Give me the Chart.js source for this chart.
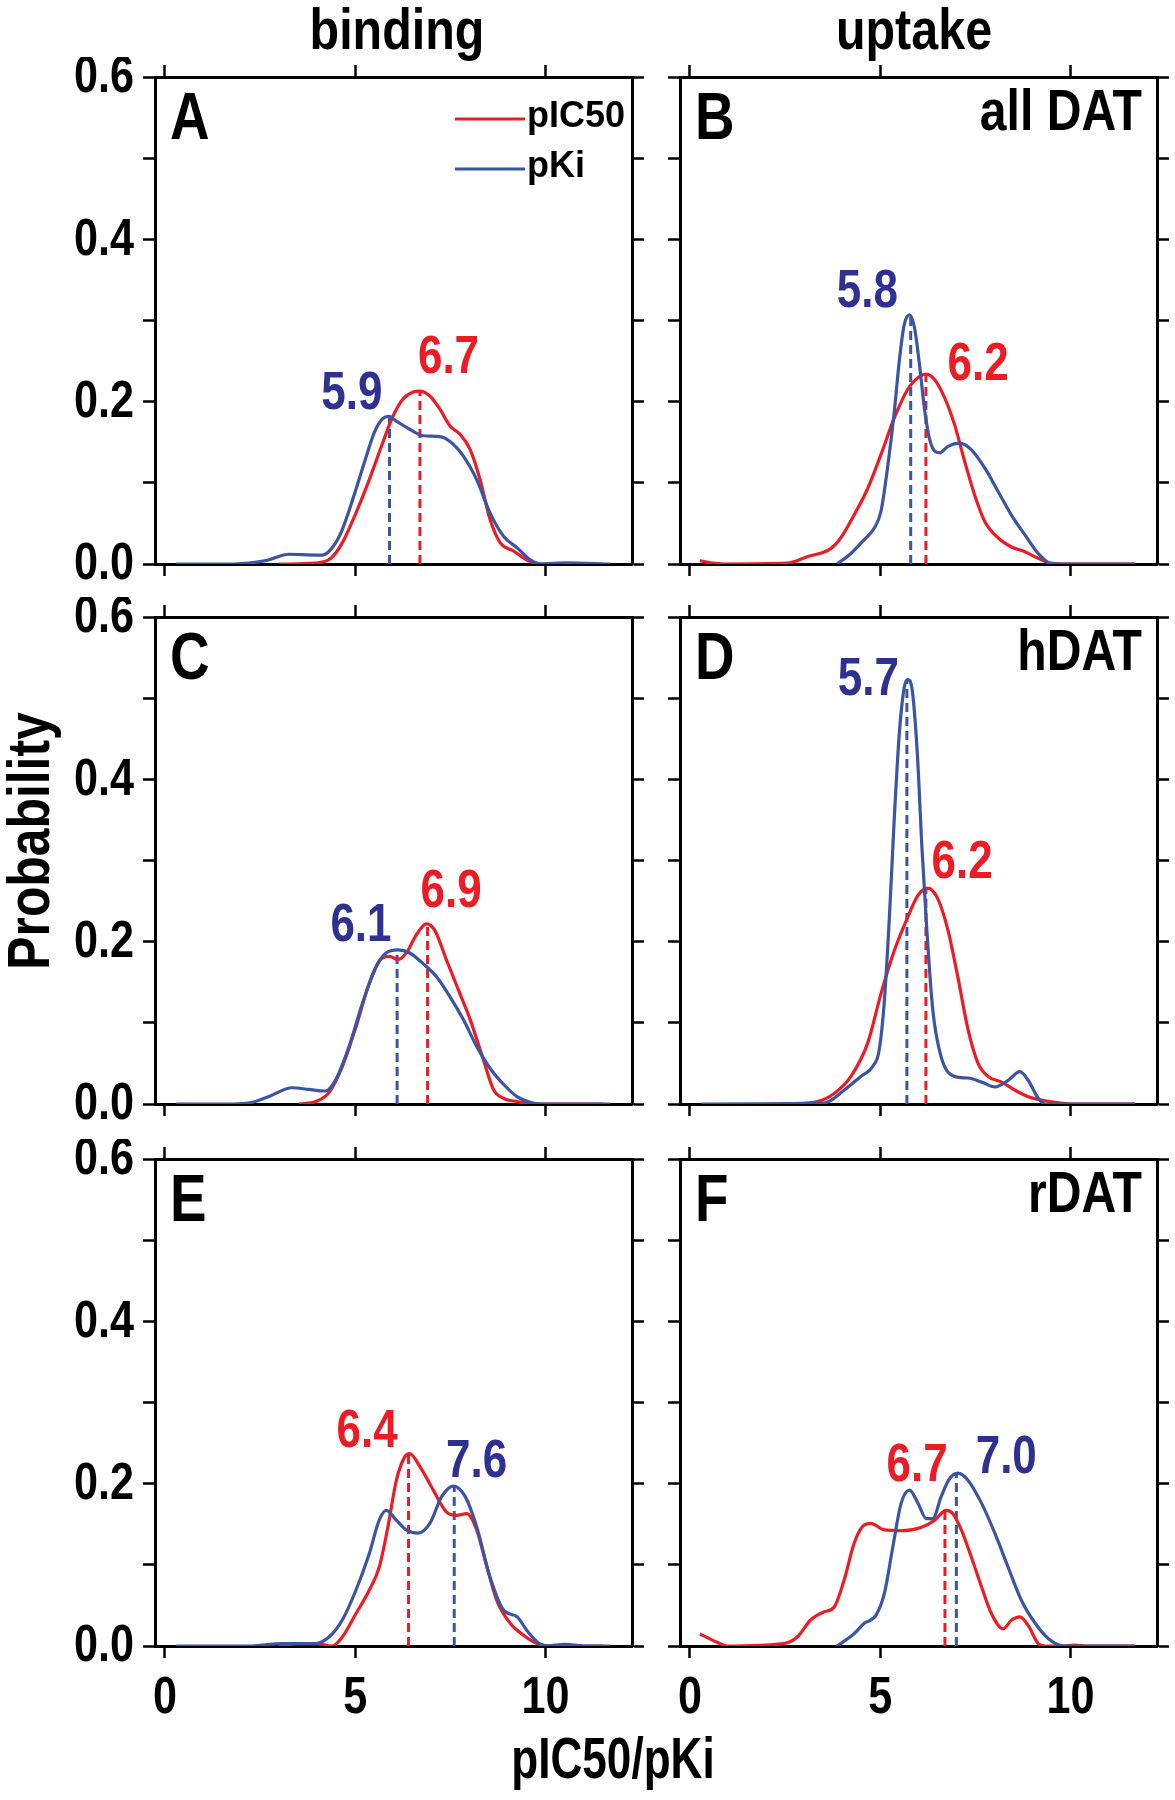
<!DOCTYPE html>
<html>
<head>
<meta charset="utf-8">
<script src="https://cdn.jsdelivr.net/npm/chart.js@4.4.1/dist/chart.umd.min.js"></script>
<style>
  body { margin: 0; background: #fff; }
  #page { position: relative; width: 1175px; height: 1800px; overflow: hidden; background: #fff; }
  #page canvas { position: absolute; }
  .t { position: absolute; font-family: "Liberation Sans", Arial, sans-serif;
       font-weight: bold; line-height: 1; white-space: nowrap; color: #000; }
</style>
</head>
<body>
<div id="page">
  <div class="t" style="left:397px; top:1px; font-size:57px; transform:translateX(-50%) scaleX(0.85)">binding</div>
  <div class="t" style="left:914px; top:1px; font-size:57px; transform:translateX(-50%) scaleX(0.85)">uptake</div>
  <div class="t" style="left:29px; top:841px; font-size:60px; transform:translate(-50%,-50%) rotate(-90deg) scaleX(0.83)">Probability</div>
  <div class="t" style="left:613px; top:1729px; font-size:58px; transform:translateX(-50%) scaleX(0.76)">pIC50/pKi</div>
</div>
<script>
// tick values / labels
const xTicks = [0, 5, 10];
const xTickLabels = ['0', '5', '10'];
const yTicks = [0, 0.1, 0.2, 0.3, 0.4, 0.5, 0.6];
const yTickLabels = ['0.0', '', '0.2', '', '0.4', '', '0.6'];

// A - binding, all DAT
const aIcX = [3.0, 3.25, 3.96, 4.36, 4.66, 5.02, 5.37, 5.72, 5.99, 6.25, 6.52, 6.69, 6.96, 7.22, 7.49, 7.75, 8.02, 8.28, 8.54, 8.81, 9.16, 9.51, 9.87, 10.5, 11.5];
const aIcY = [0, 0, 0.001, 0.007, 0.026, 0.063, 0.104, 0.149, 0.182, 0.203, 0.212, 0.213, 0.207, 0.191, 0.170, 0.160, 0.141, 0.104, 0.055, 0.026, 0.016, 0.005, 0, 0, 0];
const aKiX = [0.3, 1.8, 2.2, 2.72, 3.25, 3.61, 4.14, 4.36, 4.62, 4.93, 5.24, 5.50, 5.72, 5.88, 6.08, 6.43, 6.78, 7.22, 7.49, 7.84, 8.19, 8.54, 8.90, 9.25, 9.60, 9.87, 10.5, 11.7];
const aKiY = [0, 0, 0.001, 0.005, 0.012, 0.0115, 0.011, 0.018, 0.038, 0.079, 0.125, 0.162, 0.179, 0.182, 0.176, 0.166, 0.158, 0.157, 0.151, 0.133, 0.104, 0.063, 0.034, 0.020, 0.005, 0, 0.0015, 0];

// B - uptake, all DAT
const bIcX = [0.26, 0.6, 0.9, 2.55, 3.08, 3.70, 3.96, 4.31, 4.67, 5.02, 5.37, 5.72, 6.03, 6.21, 6.43, 6.69, 6.95, 7.22, 7.48, 7.75, 8.10, 8.45, 8.80, 9.15, 9.46, 9.8, 11.7];
const bIcY = [0.004, 0.001, 0, 0.001, 0.009, 0.019, 0.032, 0.060, 0.093, 0.135, 0.180, 0.215, 0.231, 0.234, 0.227, 0.205, 0.172, 0.126, 0.085, 0.052, 0.032, 0.021, 0.015, 0.007, 0.001, 0, 0];
const bKiX = [3.87, 4.23, 4.58, 4.84, 5.02, 5.19, 5.37, 5.50, 5.63, 5.77, 5.90, 6.03, 6.16, 6.29, 6.43, 6.56, 6.78, 7.09, 7.39, 7.75, 8.10, 8.45, 8.80, 9.15, 9.46, 9.75, 11.7];
const bKiY = [0, 0.013, 0.030, 0.044, 0.065, 0.118, 0.188, 0.250, 0.295, 0.307, 0.291, 0.246, 0.192, 0.155, 0.139, 0.137, 0.145, 0.149, 0.141, 0.118, 0.089, 0.060, 0.036, 0.013, 0.001, 0, 0];

// C - binding, hDAT
const cIcX = [3.52, 3.96, 4.31, 4.66, 5.02, 5.37, 5.68, 5.90, 6.12, 6.34, 6.60, 6.87, 7.09, 7.40, 7.75, 8.02, 8.37, 8.63, 8.90, 9.25, 9.69, 11.5];
const cIcY = [0, 0.003, 0.014, 0.046, 0.095, 0.149, 0.179, 0.182, 0.178, 0.186, 0.208, 0.222, 0.214, 0.177, 0.136, 0.104, 0.054, 0.018, 0.007, 0.003, 0, 0];
const cKiX = [0.3, 1.8, 2.20, 2.72, 3.34, 3.78, 4.22, 4.49, 4.84, 5.19, 5.55, 5.81, 6.12, 6.43, 6.78, 7.13, 7.49, 7.84, 8.19, 8.54, 8.90, 9.25, 9.69, 9.96, 11.7];
const cKiY = [0, 0, 0.001, 0.009, 0.020, 0.018, 0.016, 0.030, 0.071, 0.124, 0.169, 0.186, 0.190, 0.186, 0.173, 0.157, 0.132, 0.104, 0.071, 0.044, 0.024, 0.009, 0.001, 0, 0];

// D - uptake, hDAT
const dIcX = [2.64, 3.35, 3.79, 4.23, 4.67, 5.02, 5.37, 5.72, 5.99, 6.25, 6.51, 6.78, 7.04, 7.31, 7.57, 7.83, 8.19, 8.54, 8.89, 9.33, 9.6, 10.0, 11.7];
const dIcY = [0, 0.003, 0.013, 0.034, 0.075, 0.136, 0.189, 0.230, 0.257, 0.266, 0.253, 0.214, 0.156, 0.091, 0.050, 0.034, 0.027, 0.017, 0.009, 0.004, 0.002, 0, 0];
const dKiX = [0.3, 3.52, 4.05, 4.49, 4.80, 4.97, 5.11, 5.24, 5.37, 5.50, 5.63, 5.72, 5.83, 5.97, 6.10, 6.23, 6.38, 6.60, 6.95, 7.31, 7.66, 8.01, 8.36, 8.67, 8.89, 9.15, 9.33, 11.7];
const dKiY = [0, 0.001, 0.017, 0.034, 0.046, 0.066, 0.128, 0.230, 0.353, 0.456, 0.513, 0.523, 0.513, 0.435, 0.312, 0.210, 0.116, 0.058, 0.034, 0.032, 0.027, 0.021, 0.029, 0.040, 0.029, 0.007, 0, 0];

// E - binding, rDAT
const eIcX = [3.0, 3.52, 3.96, 4.40, 4.66, 5.02, 5.37, 5.63, 5.86, 6.08, 6.30, 6.43, 6.70, 7.05, 7.40, 7.66, 7.93, 8.19, 8.46, 8.72, 9.07, 9.43, 9.78, 10.13, 11.5];
const eIcY = [0, 0.003, 0.003, 0, 0.011, 0.040, 0.069, 0.097, 0.147, 0.204, 0.233, 0.237, 0.221, 0.192, 0.165, 0.161, 0.163, 0.143, 0.097, 0.056, 0.028, 0.013, 0.003, 0, 0];
const eKiX = [0.3, 2.2, 3.08, 3.96, 4.31, 4.66, 5.02, 5.37, 5.63, 5.81, 6.08, 6.34, 6.65, 6.96, 7.27, 7.58, 7.89, 8.19, 8.54, 8.90, 9.25, 9.51, 9.78, 10.04, 10.5, 11.0, 11.7];
const eKiY = [0, 0, 0.003, 0.003, 0.011, 0.032, 0.069, 0.114, 0.155, 0.167, 0.155, 0.143, 0.139, 0.151, 0.184, 0.197, 0.184, 0.147, 0.085, 0.044, 0.036, 0.019, 0.005, 0, 0.002, 0, 0];

// F - uptake, rDAT
const fIcX = [0.26, 0.70, 0.97, 2.46, 2.82, 3.17, 3.52, 3.79, 4.05, 4.31, 4.53, 4.75, 5.11, 5.55, 6.07, 6.43, 6.73, 6.91, 7.13, 7.39, 7.66, 7.92, 8.23, 8.45, 8.67, 8.89, 9.15, 9.33, 9.8, 10.1, 10.4, 11.7];
const fIcY = [0.015, 0.005, 0, 0.003, 0.011, 0.032, 0.042, 0.048, 0.081, 0.126, 0.147, 0.151, 0.143, 0.142, 0.146, 0.155, 0.167, 0.163, 0.143, 0.110, 0.073, 0.040, 0.021, 0.032, 0.036, 0.025, 0.003, 0, 0, 0.001, 0, 0];
const fKiX = [3.87, 4.31, 4.58, 4.89, 5.11, 5.33, 5.55, 5.77, 5.99, 6.21, 6.38, 6.60, 6.82, 7.04, 7.31, 7.66, 8.01, 8.36, 8.71, 9.07, 9.42, 9.84, 11.7];
const fKiY = [0, 0.015, 0.028, 0.038, 0.065, 0.122, 0.176, 0.192, 0.176, 0.157, 0.157, 0.184, 0.206, 0.213, 0.204, 0.176, 0.139, 0.097, 0.056, 0.028, 0.009, 0, 0];

// peak markers (dashed lines): x and height, panels A..F
const peakIcX = [6.7, 6.2, 6.9, 6.2, 6.4, 6.7];
const peakIcY = [0.213, 0.234, 0.222, 0.266, 0.237, 0.167];
const peakKiX = [5.9, 5.8, 6.1, 5.7, 7.6, 7.0];
const peakKiY = [0.182, 0.307, 0.190, 0.523, 0.197, 0.213];

const RED = '#ed1c24';
const BLUE = '#3b55a5';
const NAVY = '#2e3192';
const FONT = '"Liberation Sans", Arial, sans-serif';
const SX = 0.83;   // squeeze to look like the narrow bold face

function pts(xs, ys) {
    return xs.map(function(x, i) { return { x: x, y: ys[i] }; });
}

// narrow text helper
function ntext(ctx, txt, x, y, align) {
    ctx.save();
    ctx.translate(x, y);
    ctx.scale(SX, 1);
    ctx.textAlign = align;
    ctx.fillText(txt, 0, 0);
    ctx.restore();
}

// where the peak value texts sit (data units)
const panels = [
    { letter: 'A', tag: '',        left: 155, top: 77,   ic: [aIcX, aIcY], ki: [aKiX, aKiY], icLab: [7.45, 0.253], kiLab: [4.91, 0.209] },
    { letter: 'B', tag: 'all DAT', left: 680, top: 77,   ic: [bIcX, bIcY], ki: [bKiX, bKiY], icLab: [7.57, 0.245], kiLab: [4.66, 0.335] },
    { letter: 'C', tag: '',        left: 155, top: 617,  ic: [cIcX, cIcY], ki: [cKiX, cKiY], icLab: [7.52, 0.261], kiLab: [5.15, 0.219] },
    { letter: 'D', tag: 'hDAT',    left: 680, top: 617,  ic: [dIcX, dIcY], ki: [dKiX, dKiY], icLab: [7.15, 0.297], kiLab: [4.69, 0.522] },
    { letter: 'E', tag: '',        left: 155, top: 1159, ic: [eIcX, eIcY], ki: [eKiX, eKiY], icLab: [5.31, 0.263], kiLab: [8.19, 0.226] },
    { letter: 'F', tag: 'rDAT',    left: 680, top: 1159, ic: [fIcX, fIcY], ki: [fKiX, fKiY], icLab: [5.97, 0.221], kiLab: [8.31, 0.231] }
];

const W = 477, H = 487;

panels.forEach(function(p, idx) {
    const leftCol = idx % 2 === 0;
    const bottomRow = idx >= 4;
    const ml = leftCol ? 155 : 22;
    const mr = leftCol ? 20 : 18;
    const mt = 20;
    const mb = bottomRow ? 80 : 20;

    const cv = document.createElement('canvas');
    cv.width = W + ml + mr;
    cv.height = H + mt + mb;
    cv.style.left = (p.left - ml) + 'px';
    cv.style.top = (p.top - mt) + 'px';
    cv.style.width = cv.width + 'px';
    cv.style.height = cv.height + 'px';
    document.getElementById('page').appendChild(cv);

    const grid = { drawOnChartArea: false, drawTicks: true, tickLength: 12, tickWidth: 2.5, tickColor: '#000' };
    const border = { display: true, color: '#000', width: 3 };

    function xScale(pos, size) {
        return {
            type: 'linear', position: pos, min: -0.26, max: 12.27,
            afterBuildTicks: function(s) { s.ticks = xTicks.map(function(v) { return { value: v }; }); },
            afterFit: function(s) { s.height = size; },
            ticks: { display: false },
            grid: grid, border: border
        };
    }
    function yScale(pos, size) {
        return {
            type: 'linear', position: pos, min: 0, max: 0.6,
            afterBuildTicks: function(s) { s.ticks = yTicks.map(function(v) { return { value: v }; }); },
            afterFit: function(s) { s.width = size; },
            ticks: { display: false },
            grid: grid, border: border
        };
    }

    const textPlugin = {
        id: 'panelText',
        afterDatasetsDraw: function(chart) {
            const ctx = chart.ctx, ca = chart.chartArea;
            const xs = chart.scales.x, ys = chart.scales.y;
            ctx.save();
            ctx.fillStyle = '#000';

            // tick labels
            ctx.font = 'bold 52px ' + FONT;
            if (leftCol) {
                ctx.textBaseline = 'middle';
                yTicks.forEach(function(v, i) {
                    if (yTickLabels[i]) ntext(ctx, yTickLabels[i], ca.left - 21, ys.getPixelForValue(v) + 1, 'right');
                });
            }
            if (bottomRow) {
                ctx.textBaseline = 'alphabetic';
                xTicks.forEach(function(v, i) {
                    ntext(ctx, xTickLabels[i], xs.getPixelForValue(v), ca.bottom + 67, 'center');
                });
            }

            ctx.textBaseline = 'alphabetic';
            ctx.font = 'bold 66px ' + FONT;
            ntext(ctx, p.letter, ca.left + 15, ca.top + 62, 'left');
            if (p.tag) {
                ctx.font = 'bold 58px ' + FONT;
                ntext(ctx, p.tag, ca.right - 15, ca.top + 53, 'right');
            }

            // peak values
            ctx.font = 'bold 53px ' + FONT;
            ctx.textBaseline = 'middle';
            ctx.fillStyle = RED;
            ntext(ctx, peakIcX[idx].toFixed(1), xs.getPixelForValue(p.icLab[0]), ys.getPixelForValue(p.icLab[1]), 'center');
            ctx.fillStyle = NAVY;
            ntext(ctx, peakKiX[idx].toFixed(1), xs.getPixelForValue(p.kiLab[0]), ys.getPixelForValue(p.kiLab[1]), 'center');

            if (idx === 0) {
                // legend
                const lx = ca.left + 300, rows = [[RED, 'pIC50', 42], [BLUE, 'pKi', 92]];
                ctx.lineWidth = 3;
                ctx.font = 'bold 36px ' + FONT;
                ctx.textAlign = 'left';
                ctx.textBaseline = 'middle';
                rows.forEach(function(r) {
                    ctx.strokeStyle = r[0];
                    ctx.beginPath();
                    ctx.moveTo(lx, ca.top + r[2]);
                    ctx.lineTo(lx + 70, ca.top + r[2]);
                    ctx.stroke();
                    ctx.fillStyle = '#000';
                    ctx.fillText(r[1], lx + 72, ca.top + r[2] - 2);
                });
            }
            ctx.restore();
        }
    };

    new Chart(cv.getContext('2d'), {
        type: 'line',
        data: {
            datasets: [
                { data: pts(p.ki[0], p.ki[1]), borderColor: BLUE, borderWidth: 3.2, pointRadius: 0,
                  cubicInterpolationMode: 'monotone', fill: false },
                { data: pts(p.ic[0], p.ic[1]), borderColor: RED, borderWidth: 3.2, pointRadius: 0,
                  cubicInterpolationMode: 'monotone', fill: false },
                { data: [{ x: peakKiX[idx], y: 0 }, { x: peakKiX[idx], y: peakKiY[idx] }], borderColor: BLUE,
                  borderWidth: 3, borderDash: [9, 5], pointRadius: 0, fill: false },
                { data: [{ x: peakIcX[idx], y: 0 }, { x: peakIcX[idx], y: peakIcY[idx] }], borderColor: RED,
                  borderWidth: 3, borderDash: [9, 5], pointRadius: 0, fill: false }
            ]
        },
        options: {
            responsive: false,
            maintainAspectRatio: false,
            animation: false,
            layout: { padding: 0 },
            plugins: { legend: { display: false }, tooltip: { enabled: false } },
            scales: {
                x: xScale('bottom', mb),
                x2: xScale('top', mt),
                y: yScale('left', ml),
                y2: yScale('right', mr)
            }
        },
        plugins: [textPlugin]
    });
});
</script>
</body>
</html>
